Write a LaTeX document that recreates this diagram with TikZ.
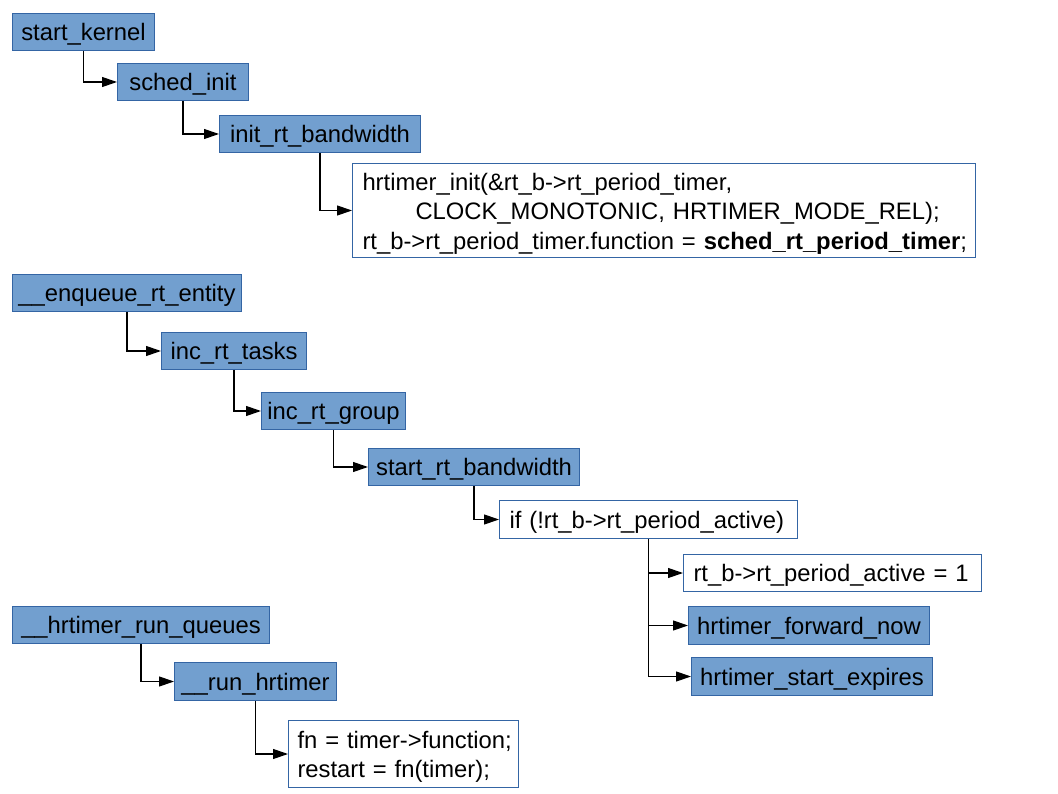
\documentclass[tikz,border=0pt]{standalone}
\usepackage{fontspec}
\setmainfont{Liberation Sans}
\usetikzlibrary{arrows.meta}
\definecolor{boxblue}{HTML}{729FCF}
\definecolor{boxedge}{HTML}{3465A4}
\begin{document}
\begin{tikzpicture}[x=1pt,y=-1pt,
  base/.style={draw=boxedge, line width=1pt, anchor=north west, inner sep=0pt,
    font=\fontsize{23.8pt}{29.5pt}\selectfont},
  oneline/.style={text depth=0pt},
  bluebox/.style={base, oneline, fill=boxblue, align=center},
  whitebox/.style={base, fill=white, align=left, inner xsep=10pt},
  callarrow/.style={-{Triangle[length=15pt,width=10pt]}, line width=1.2pt}]
\fill[white] (0,0) rectangle (1058,794);
\useasboundingbox (0,0) rectangle (1058,794);

% group 1
\node[bluebox, minimum width=142pt, minimum height=37pt] (sk) at (12,13) {start\_kernel};
\node[bluebox, minimum width=131pt, minimum height=37pt] (si) at (117,63) {sched\_init};
\node[bluebox, minimum width=201pt, minimum height=37pt] (irb) at (219,115) {init\_rt\_bandwidth};
\node[whitebox, text width=603pt, minimum height=94pt] (hi) at (352,163)
  {\mbox{\rule{0pt}{23pt}hrtimer\_init(\&rt\_b->rt\_period\_timer,}\\
   \mbox{\hspace*{53pt}CLOCK\_MONOTONIC, HRTIMER\_MODE\_REL);}\\
   \mbox{rt\_b->rt\_period\_timer.function = \textbf{sched\_rt\_period\_timer};}};

% group 2
\node[bluebox, minimum width=229pt, minimum height=37pt] (enq) at (12,274) {\_\_enqueue\_rt\_entity};
\node[bluebox, minimum width=145pt, minimum height=37pt] (irt) at (161,332) {inc\_rt\_tasks};
\node[bluebox, minimum width=144pt, minimum height=37pt] (irg) at (261,392) {inc\_rt\_group};
\node[bluebox, minimum width=211pt, minimum height=37pt] (srb) at (368,448) {start\_rt\_bandwidth};
\node[whitebox, oneline, text width=278pt, minimum height=38pt] (ifb) at (499,500) {\mbox{if (!rt\_b->rt\_period\_active)}};
\node[whitebox, oneline, text width=278pt, minimum height=37pt] (act) at (683,554) {\mbox{rt\_b->rt\_period\_active = 1}};
\node[bluebox, minimum width=241pt, minimum height=38pt] (hfn) at (688,606) {hrtimer\_forward\_now};
\node[bluebox, minimum width=241pt, minimum height=38pt] (hse) at (691,657) {hrtimer\_start\_expires};

% group 3
\node[bluebox, minimum width=257pt, minimum height=37pt] (hrq) at (12,606) {\_\_hrtimer\_run\_queues};
\node[bluebox, minimum width=162pt, minimum height=38pt] (rh) at (174,662) {\_\_run\_hrtimer};
\node[whitebox, inner xsep=9pt, text width=212pt, minimum height=67pt] (fnb) at (288,720)
  {\mbox{\rule{0pt}{23pt}fn = timer->function;}\\\mbox{restart = fn(timer);}};

% connectors
\draw[callarrow] (sk.south) |- (si.west);
\draw[callarrow] (si.south) |- (irb.west);
\draw[callarrow] (irb.south) |- (hi.west);
\draw[callarrow] (enq.south) |- (irt.west);
\draw[callarrow] (irt.south) |- (irg.west);
\draw[callarrow] (irg.south) |- (srb.west);
\draw[callarrow] (srb.south) |- (ifb.west);
\draw[callarrow] (ifb.south) |- (act.west);
\draw[callarrow] (ifb.south) |- (hfn.west);
\draw[callarrow] (ifb.south) |- (hse.west);
\draw[callarrow] (hrq.south) |- (rh.west);
\draw[callarrow] (rh.south) |- (fnb.west);
\end{tikzpicture}
\end{document}
